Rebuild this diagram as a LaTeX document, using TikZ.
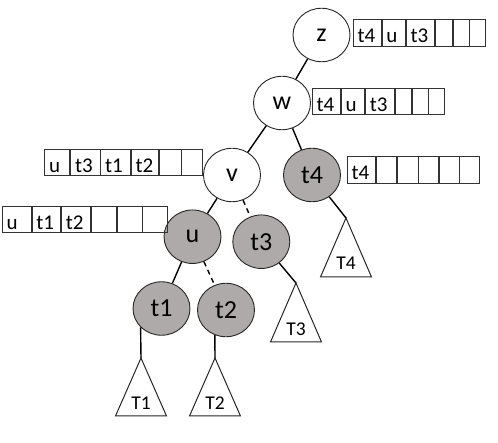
\documentclass[tikz,border=0pt]{standalone}
\usepackage{fontspec}
\setmainfont{Carlito}
\usetikzlibrary{shapes.geometric}
\definecolor{nodegray}{HTML}{AEAAAA}
\begin{document}
\begin{tikzpicture}[x=1pt,y=-1pt,
  tn/.style={ellipse,draw=black!85,line width=0.9pt,minimum width=57pt,minimum height=53.5pt,inner sep=0pt,font=\fontsize{26}{26}\selectfont},
  gn/.style={tn,fill=nodegray},
  cell/.style={draw=black!80,line width=0.8pt,minimum height=26.5pt,inner xsep=4.5pt,inner ysep=0pt,
    text height=19.5pt,text depth=0pt,
    text width=#1,align=left,anchor=west,font=\fontsize{21}{21}\selectfont},
  edge/.style={line width=1.4pt},
  dedge/.style={edge,dash pattern=on 5pt off 4pt},
  tri/.style={draw=black!85,line width=1pt},
  tlabel/.style={inner sep=0pt,font=\fontsize{19.5}{19.5}\selectfont}
]
\useasboundingbox (0,0) rectangle (498,443);

% tree nodes
\node[tn] (z) at (321.5,35) {z};
\node[tn] (w) at (282,103) {w};
\node[tn] (v) at (232,175) {v};
\node[gn] (t4) at (312,175) {t4};
\node[gn] (u) at (192.5,236.7) {u};
\node[gn] (t3) at (261.3,241.7) {t3};
\node[gn] (t1) at (161.5,308.5) {t1};
\node[gn] (t2) at (226,310) {t2};

% subtree triangles
\coordinate (T1a) at (141,358);
\coordinate (T2a) at (215,358);
\coordinate (T3a) at (296,283);
\coordinate (T4a) at (346,218);
\draw[tri] (T1a) -- ++(-25.5,58) -- ++(51,0) -- cycle;
\draw[tri] (T2a) -- ++(-25.5,58) -- ++(51,0) -- cycle;
\draw[tri] (T3a) -- ++(-25.5,59) -- ++(51,0) -- cycle;
\draw[tri] (T4a) -- ++(-25.5,59) -- ++(51,0) -- cycle;
\node[tlabel] (T1) at (141,403) {T1};
\node[tlabel] (T2) at (215,403) {T2};
\node[tlabel] (T3) at (296,329.5) {T3};
\node[tlabel] (T4) at (346,263.5) {T4};

% connectors
\draw[edge] (z) -- (w);
\draw[edge] (w) -- (v);
\draw[edge] (w) -- (t4);
\draw[edge] (v) -- (u);
\draw[dedge] (v) -- (t3);
\draw[edge] (u) -- (t1);
\draw[dedge] (u) -- (t2);
\draw[edge] (t1.222) -- (T1a);
\draw[edge] (t2.246) -- (T2a);
\draw[edge] (t3) -- (T3a);
\draw[edge] (t4) -- (T4a);

% arrays (text width = cell width - 9pt)
\node[cell=19pt] (za1) at (352.7,33) {t4};
\node[cell=14.3pt] (za2) at (za1.east) {u};
\node[cell=19.7pt] (za3) at (za2.east) {t3};
\node[cell=7.6pt] (za4) at (za3.east) {};
\node[cell=7pt] (za5) at (za4.east) {};
\node[cell=6.7pt] (za6) at (za5.east) {};

\node[cell=19.3pt] (wa1) at (311.7,101.5) {t4};
\node[cell=14.3pt] (wa2) at (wa1.east) {u};
\node[cell=20pt] (wa3) at (wa2.east) {t3};
\node[cell=7pt] (wa4) at (wa3.east) {};
\node[cell=7pt] (wa5) at (wa4.east) {};
\node[cell=6.7pt] (wa6) at (wa5.east) {};

\node[cell=16pt] (va1) at (44.3,162.3) {u};
\node[cell=20.4pt] (va2) at (va1.east) {t3};
\node[cell=20.6pt] (va3) at (va2.east) {t1};
\node[cell=18.7pt] (va4) at (va3.east) {t2};
\node[cell=12.3pt] (va5) at (va4.east) {};
\node[cell=11.4pt] (va6) at (va5.east) {};

\node[cell=20pt] (ua1) at (1.7,219.3) {u};
\node[cell=19.6pt] (ua2) at (ua1.east) {t1};
\node[cell=20pt] (ua3) at (ua2.east) {t2};
\node[cell=16pt] (ua4) at (ua3.east) {};
\node[cell=16pt] (ua5) at (ua4.east) {};
\node[cell=16pt] (ua6) at (ua5.east) {};

\node[cell=19.6pt] (ta1) at (346.7,170) {t4};
\node[cell=11pt] (ta2) at (ta1.east) {};
\node[cell=11.7pt] (ta3) at (ta2.east) {};
\node[cell=11pt] (ta4) at (ta3.east) {};
\node[cell=10.3pt] (ta5) at (ta4.east) {};
\node[cell=10.7pt] (ta6) at (ta5.east) {};
\end{tikzpicture}
\end{document}
